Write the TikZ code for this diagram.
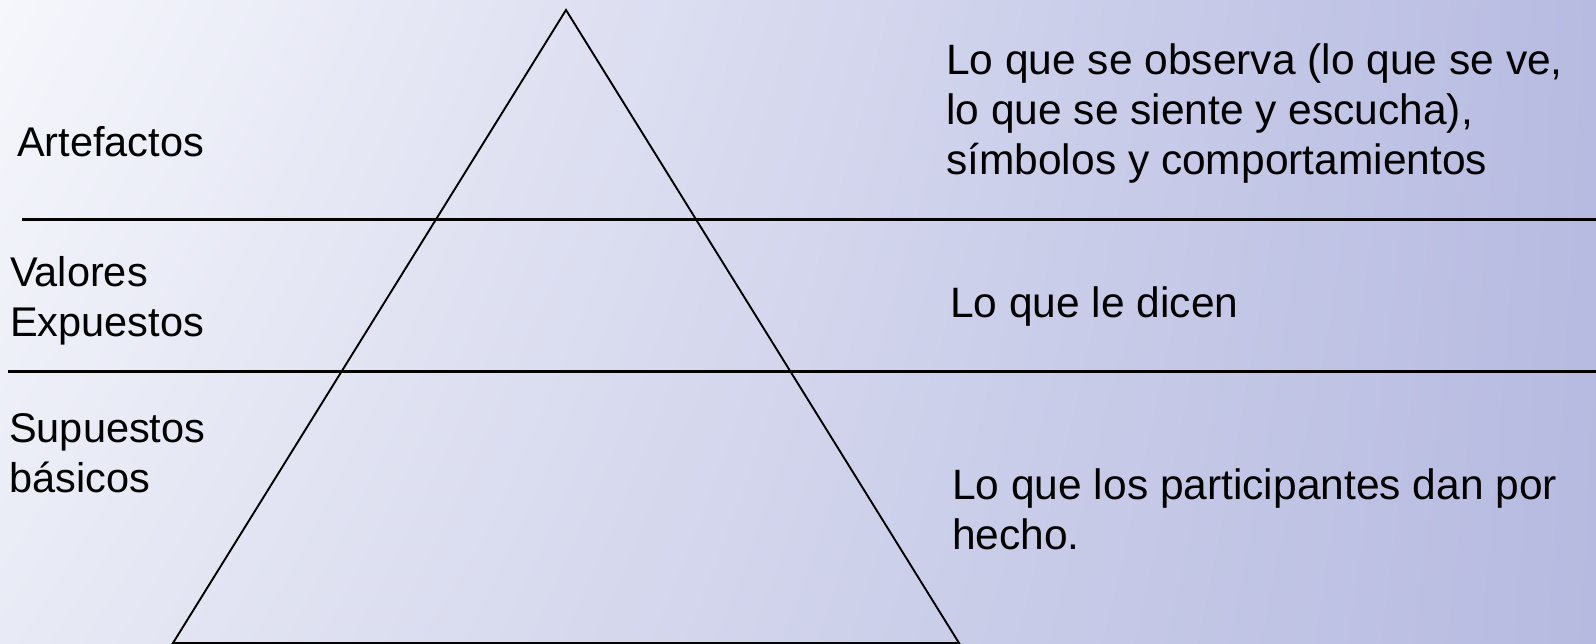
\documentclass[tikz,border=0pt]{standalone}
\usepackage{fontspec}
\setmainfont{Liberation Sans}
\usetikzlibrary{shadings}
\definecolor{bgUL}{RGB}{246,247,252}
\definecolor{bgUR}{RGB}{183,187,225}
\definecolor{bgLL}{RGB}{232,234,245}
\definecolor{bgLR}{RGB}{182,186,224}
\begin{document}
\begin{tikzpicture}[x=1pt,y=-1pt,
  lbl/.style={anchor=base west, inner sep=0pt, font=\fontsize{41.5}{50}\selectfont},
  rlbl/.style={lbl, font=\fontsize{42.5}{50}\selectfont},
  sepline/.style={line width=3pt, black},
  pyr/.style={line width=1.9pt, black, line join=miter}]
\shade[upper left=bgUL, upper right=bgUR, lower left=bgLL, lower right=bgLR]
  (0,0) rectangle (1596,644);
\useasboundingbox (0,0) rectangle (1596,644);
% triangle
\coordinate (apex) at (566,10);
\coordinate (bl) at (173,643);
\coordinate (br) at (959,643);
\draw[pyr] (bl) -- (apex) -- (br) -- cycle;
% separator lines
\coordinate (l1a) at (22,220);
\coordinate (l1b) at (1596,220);
\coordinate (l2a) at (8,371);
\coordinate (l2b) at (1596,371);
\draw[sepline] (l1a) -- (l1b);
\draw[sepline] (l2a) -- (l2b);
% left labels
\node[lbl] (art) at (17,157) {Artefactos};
\node[lbl] (val) at (10,287) {\begin{tabular}[t]{@{}l@{}}Valores\\Expuestos\end{tabular}};
\node[lbl] (sup) at (9,442) {\begin{tabular}[t]{@{}l@{}}Supuestos\\básicos\end{tabular}};
% right labels
\node[rlbl] (obs) at (946,75) {\begin{tabular}[t]{@{}l@{}}Lo que se observa (lo que se ve,\\lo que se siente y escucha),\\símbolos y comportamientos\end{tabular}};
\node[rlbl] (dic) at (950,318) {Lo que le dicen};
\node[rlbl] (hec) at (952,499) {\begin{tabular}[t]{@{}l@{}}Lo que los participantes dan por\\hecho.\end{tabular}};
\end{tikzpicture}
\end{document}
